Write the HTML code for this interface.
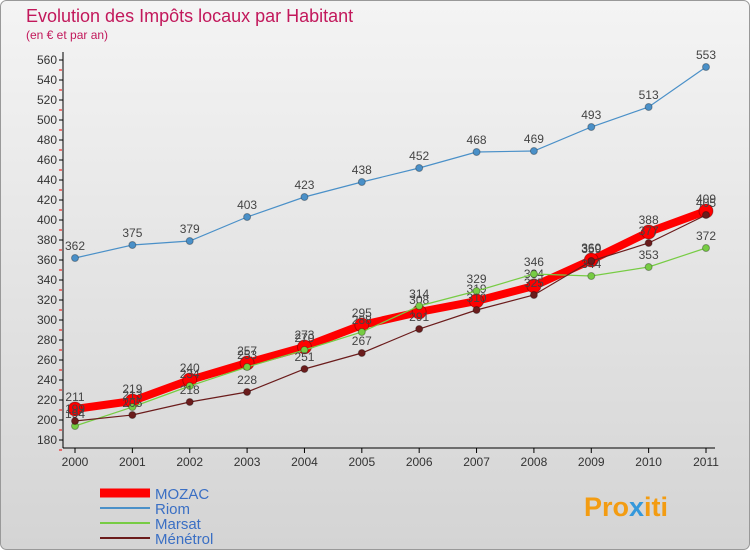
<!DOCTYPE html>
<html><head><meta charset="utf-8"><style>
body{margin:0;width:750px;height:550px;overflow:hidden;font-family:"Liberation Sans",sans-serif}
</style></head><body>
<svg id="c" width="750" height="550" xmlns="http://www.w3.org/2000/svg">
<defs><linearGradient id="bg" x1="0" y1="0" x2="0" y2="1"><stop offset="0" stop-color="#f4f4f4"/><stop offset="1" stop-color="#d4d4d4"/></linearGradient></defs>
<rect x="0.5" y="0.5" width="749" height="549" rx="6" fill="url(#bg)" stroke="#999"/>
<text x="26" y="22" font-size="18" fill="#c2185b">Evolution des Impôts locaux par Habitant</text>
<text x="26" y="39" font-size="12" fill="#c2185b">(en € et par an)</text>
<g id="axes"></g><g id="series"></g><g id="legend"></g>
<text x="584" y="516" font-size="27" font-weight="bold" fill="#f39c12">Pro<tspan fill="#3498db">x</tspan>iti</text>
</svg>
<script>
const years=["2000","2001","2002","2003","2004","2005","2006","2007","2008","2009","2010","2011"];
const yTicks=[180,200,220,240,260,280,300,320,340,360,380,400,420,440,460,480,500,520,540,560];
const mozac=[211,219,240,257,273,295,308,319,334,360,388,409];
const riom=[362,375,379,403,423,438,452,468,469,493,513,553];
const marsat=[194,213,234,253,270,288,314,329,346,344,353,372];
const menetrol=[199,205,218,228,251,267,291,310,325,359,377,405];
const NS="http://www.w3.org/2000/svg";
const X=i=>75+i*(706-75)/11, Y=v=>440-(v-180)*(380/380);
function mk(t,a,p){const e=document.createElementNS(NS,t);for(const k in a)e.setAttribute(k,a[k]);(p||document.getElementById('series')).appendChild(e);return e;}
const ax=document.getElementById('axes');
let e=mk('line',{x1:63,y1:52,x2:63,y2:448,stroke:'#000'},ax);


e=mk('line',{x1:63,y1:448,x2:715,y2:448,stroke:'#000'},ax);


yTicks.forEach(v=>{mk('line',{x1:59,y1:Y(v),x2:63,y2:Y(v),stroke:'#000'},ax);
mk('line',{x1:59,y1:Y(v)+10,x2:62,y2:Y(v)+10,stroke:'#e00'},ax);
const t=mk('text',{x:57,y:Y(v)+4,'font-size':12,'text-anchor':'end',fill:'#333'},ax);t.textContent=v;

});
years.forEach((y,i)=>{mk('line',{x1:X(i),y1:448,x2:X(i),y2:453,stroke:'#000'},ax);
const t=mk('text',{x:X(i),y:466,'font-size':12,'text-anchor':'middle',fill:'#333'},ax);t.textContent=y;

});
function series(d,col,w,r,name){
const g=mk('g',{});


mk('polyline',{points:d.map((v,i)=>X(i)+','+Y(v)).join(' '),fill:'none',stroke:col,'stroke-width':w},g);
d.forEach((v,i)=>{const c=mk('circle',{cx:X(i),cy:Y(v),r:r,fill:col,stroke:'rgba(0,0,0,0.3)'},g);


const t=mk('text',{x:X(i),y:Y(v)-8,'font-size':12,'text-anchor':'middle',fill:'#444'},g);t.textContent=v;

});}
series(riom,'#4a90c8',1.2,3.5,'riom');
series(mozac,'#ff0000',8,7,'mozac');
series(marsat,'#77cc44',1.2,3.5,'marsat');
series(menetrol,'#6b1c1c',1.2,3.5,'menetrol');
const lg=document.getElementById('legend');
[["MOZAC","#ff0000",9],["Riom","#4a90c8",2],["Marsat","#77cc44",2],["Ménétrol","#6b1c1c",2]].forEach((s,i)=>{
const y=493+i*15;
const l=mk('line',{x1:100,y1:y,x2:150,y2:y,stroke:s[1],'stroke-width':s[2]},lg);


const t=mk('text',{x:155,y:y+6,'font-size':15,fill:'#3a6fc4'},lg);t.textContent=s[0];

});
</script>
</body></html>
